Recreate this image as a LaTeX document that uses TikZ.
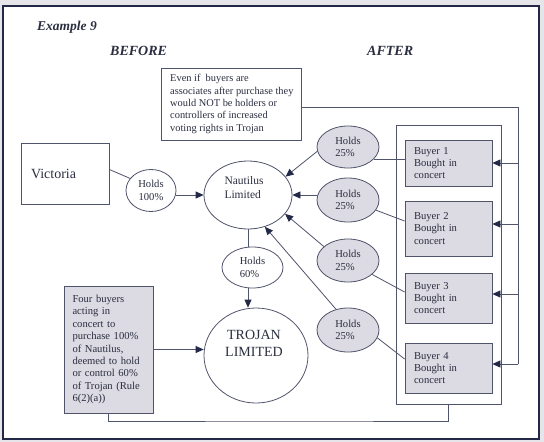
\documentclass[tikz,border=0pt]{standalone}
\usepackage{fontspec}
\setmainfont{Liberation Serif}
\usetikzlibrary{shapes.geometric,arrows.meta,calc}
\definecolor{ink}{HTML}{2B2E40}
\definecolor{navy}{HTML}{232846}
\definecolor{edge}{HTML}{50546A}
\definecolor{shade}{HTML}{DCDAE2}
\definecolor{pagebg}{HTML}{E5E5EA}
\begin{document}
\begin{tikzpicture}[x=1pt,y=-1pt,
  txt/.style={font=\fontsize{10.6}{12.4}\selectfont, text=ink},
  box/.style={draw=edge, line width=0.8pt, rectangle, inner sep=0pt, txt},
  oval/.style={draw=edge, line width=0.8pt, ellipse, inner sep=0pt, txt},
  conn/.style={draw=edge, line width=0.8pt},
  arr/.style={conn, -{Triangle[length=8pt,width=7pt,color=navy]}},
  heading/.style={font=\fontsize{14}{16}\selectfont\bfseries\itshape, text=ink, inner sep=0pt}]
\useasboundingbox (0,0) rectangle (544,442);
\fill[pagebg] (0,0) rectangle (544,442);
\draw[navy, line width=2.5pt, fill=white] (3,6) rectangle (539,439);

% headings
\node[heading, font=\fontsize{13.5}{16}\selectfont\bfseries\itshape, anchor=base west] (ex) at (37,30) {Example 9};
\node[heading, anchor=base west] (before) at (110,55) {BEFORE};
\node[heading, anchor=base west] (after) at (367,55) {AFTER};

% note box
\node[box, minimum width=140, minimum height=72, anchor=north west] (note) at (161,68) {};
\node[txt, font=\fontsize{10.4}{12.3}\selectfont, anchor=west, align=left, inner sep=0pt] (notetext) at (170,104)
  {Even if\enspace buyers are\\associates after purchase they\\would NOT be holders or\\controllers of increased\\voting rights in Trojan};

% before side
\node[box, minimum width=88, minimum height=61, text width=68, inner xsep=10, align=left] (victoria) at (65,173.5)
  {\fontsize{14}{16}\selectfont Victoria};
\node[oval, minimum width=50, minimum height=42, align=center] (h100) at (151,190.5) {Holds\\100\%};
\node[oval, minimum width=88, minimum height=68] (naut) at (248,195) {};
\node[txt, font=\fontsize{11.5}{14}\selectfont, align=left] (nauttext) at (244,188) {Nautilus\\Limited};
\node[oval, minimum width=61, minimum height=41, align=left] (h60) at (252.5,267.5) {Holds\\60\%};
\node[oval, minimum width=104, minimum height=95] (trojan) at (256,355.5) {};
\node[txt, font=\fontsize{14}{17}\selectfont, align=center] (trojantext) at (254,343) {TROJAN\\LIMITED};
\node[box, fill=shade, minimum width=89, minimum height=127, text width=72, inner xsep=8.5, align=left] (fourbox) at (108.5,349.5)
  {Four buyers\\acting in\\concert to\\purchase 100\%\\of Nautilus,\\deemed to hold\\or control 60\%\\of Trojan (Rule\\6(2)(a))};

% after side
\node[draw=edge, line width=0.8pt, minimum width=105, minimum height=279, inner sep=0pt] (container) at (448.5,264.5) {};
\node[box, fill=shade, minimum width=87, minimum height=46, text width=69, inner xsep=9, align=left] (b1) at (448.5,163) {Buyer 1\\Bought in\\concert};
\node[box, fill=shade, minimum width=87, minimum height=55, text width=69, inner xsep=9, align=left] (b2) at (448.5,228.5) {Buyer 2\\Bought in\\concert};
\node[box, fill=shade, minimum width=87, minimum height=50, text width=69, inner xsep=9, align=left] (b3) at (448.5,298) {Buyer 3\\Bought in\\concert};
\node[box, fill=shade, minimum width=87, minimum height=50, text width=69, inner xsep=9, align=left] (b4) at (448.5,368) {Buyer 4\\Bought in\\concert};

\node[oval, fill=shade, minimum width=62, minimum height=42, align=left] (h1) at (348,147) {Holds\\25\%};
\node[oval, fill=shade, minimum width=62, minimum height=44, align=left] (h2) at (348,200) {Holds\\25\%};
\node[oval, fill=shade, minimum width=62, minimum height=43, align=left] (h3) at (348,260.5) {Holds\\25\%};
\node[oval, fill=shade, minimum width=62, minimum height=44, align=left] (h4) at (348,330) {Holds\\25\%};

% connectors: before
\draw[conn] ([yshift=4pt]victoria.east) -- (h100.150);
\draw[arr] (h100.east |- naut.west) -- (naut.west);
\draw[conn] (naut.south) -- (naut.south |- h60.north);
\draw[arr] (naut.south |- h60.south) -- (naut.south |- trojan.north);
\draw[arr] (fourbox.east) -- (fourbox.east -| trojan.west);
\coordinate (jb) at (300,421);
\draw[conn] (fourbox.south) |- (jb) -| (container.south);

% connectors: after
\coordinate (rtop) at (518,107);
\coordinate (rbot) at (518,364);
\draw[conn] (note.east |- rtop) -- (rtop) -- (rbot);
\draw[arr] (rtop |- b1.east) -- (b1.east);
\draw[arr] ([yshift=4.5pt]b2.east -| rtop) -- ([yshift=4.5pt]b2.east);
\draw[arr] ([yshift=4pt]b3.east -| rtop) -- ([yshift=4pt]b3.east);
\draw[arr] ([yshift=4pt]b4.east -| rtop) -- ([yshift=4pt]b4.east);

\draw[conn] (h1.-25) -- (h1.-25 -| b1.west);
\draw[conn] (h2.-20) -- ([yshift=7.5pt]b2.west);
\draw[conn] (h3.-30) -- ([yshift=6pt]b3.west);
\draw[conn] (h4.-15) -- ([yshift=9pt]b4.west);

\draw[arr] (h1.188) -- (naut.26);
\draw[arr] (naut.east -| h2.west) -- (naut.east);
\draw[arr] (h3.150) -- (naut.-27);
\draw[arr] (h4.120) -- (naut.-62);
\end{tikzpicture}
\end{document}
